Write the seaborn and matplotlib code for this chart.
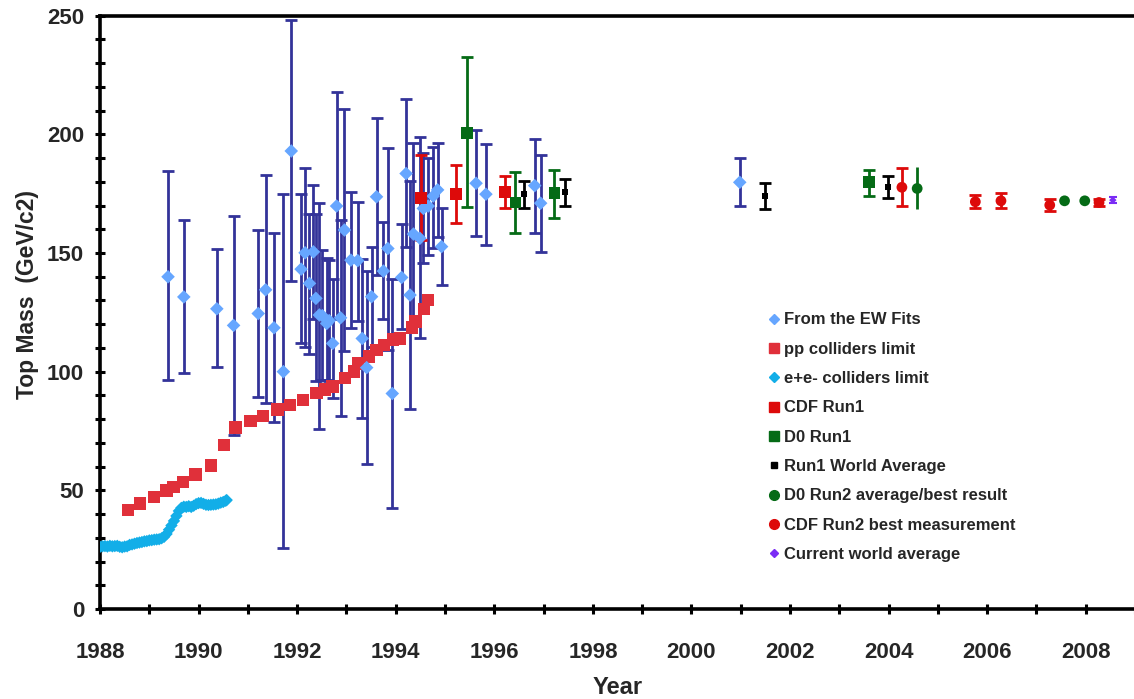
import numpy as np
import matplotlib
matplotlib.use("Agg")
import matplotlib.pyplot as plt
from matplotlib.lines import Line2D
from matplotlib.ticker import MultipleLocator
import seaborn as sns

# --- data ---
# electroweak fits: year, central value, upper and lower end of the error bar
ew_year = [1989.38, 1989.70, 1990.37, 1990.71, 1991.21, 1991.36, 1991.53, 1991.72, 1991.88,
           1992.08, 1992.16, 1992.25, 1992.33, 1992.38, 1992.45, 1992.51, 1992.60, 1992.65,
           1992.72, 1992.80, 1992.88, 1992.96, 1993.09, 1993.23, 1993.32, 1993.41, 1993.51,
           1993.61, 1993.75, 1993.84, 1993.93, 1994.12, 1994.21, 1994.29, 1994.36, 1994.49,
           1994.56, 1994.66, 1994.76, 1994.85, 1994.93, 1995.63, 1995.83, 1996.82, 1996.94,
           2000.98]
ew_mass = [140.0, 131.5, 126.5, 119.5, 124.5, 134.5, 118.5, 100.0, 193.0,
           143.2, 150.1, 137.2, 150.5, 130.9, 123.9, 123.6, 120.3, 121.5,
           111.9, 169.8, 122.7, 159.7, 147.0, 146.8, 114.0, 101.7, 131.6,
           173.7, 142.4, 151.9, 90.8, 139.7, 183.5, 132.3, 158.0, 156.2,
           168.8, 169.8, 174.0, 176.6, 152.7, 179.4, 174.8, 178.4, 171.0,
           179.8]
ew_hi = [184.5, 164.0, 151.5, 165.5, 159.5, 183.0, 158.5, 175.0, 248.0,
         174.9, 186.0, 166.4, 178.6, 166.4, 170.9, 151.2, 147.7, 147.0,
         138.9, 217.8, 163.9, 210.8, 175.8, 171.3, 147.6, 142.4, 152.7,
         207.0, 163.2, 194.4, 139.0, 162.1, 214.7, 180.5, 196.2, 199.0,
         192.0, 190.0, 194.8, 196.5, 168.8, 201.9, 196.0, 198.0, 191.1,
         189.9]
ew_lo = [96.5, 99.5, 102.0, 73.5, 89.5, 87.0, 79.0, 25.5, 138.3,
         112.2, 110.5, 107.4, 122.0, 96.0, 75.7, 96.5, 96.5, 96.0,
         88.7, 122.0, 81.4, 108.8, 118.2, 121.5, 80.3, 61.0, 110.5,
         140.7, 122.2, 109.0, 42.5, 117.9, 152.7, 84.1, 120.0, 114.1,
         145.7, 149.0, 152.0, 156.9, 136.5, 157.2, 153.4, 158.3, 150.6,
         169.9]

# p-pbar collider lower limits
pp_year = [1988.57, 1988.81, 1989.10, 1989.35, 1989.49, 1989.68, 1989.94, 1990.25, 1990.52,
           1990.75, 1991.05, 1991.31, 1991.60, 1991.85, 1992.12, 1992.39, 1992.56, 1992.72,
           1992.97, 1993.15, 1993.24, 1993.46, 1993.61, 1993.76, 1993.94, 1994.09, 1994.33,
           1994.40, 1994.57, 1994.66]
pp_mass = [41.7, 44.5, 47.2, 50.0, 51.5, 53.5, 56.6, 60.4, 69.1,
           76.5, 79.2, 81.3, 84.0, 86.0, 88.0, 91.1, 92.4, 93.8,
           97.3, 100.0, 103.4, 106.4, 109.1, 111.2, 113.5, 114.0, 118.7,
           121.1, 126.3, 130.2]

# e+e- collider lower limits
ee_year = [1988.00, 1988.05, 1988.10, 1988.15, 1988.20, 1988.25, 1988.30, 1988.35, 1988.40,
           1988.45, 1988.50, 1988.55, 1988.60, 1988.65, 1988.70, 1988.75, 1988.80, 1988.85,
           1988.90, 1988.95, 1989.00, 1989.05, 1989.10, 1989.15, 1989.20, 1989.25, 1989.30,
           1989.35, 1989.40, 1989.45, 1989.50, 1989.55, 1989.60, 1989.65, 1989.70, 1989.75,
           1989.80, 1989.85, 1989.90, 1989.95, 1990.00, 1990.05, 1990.10, 1990.15, 1990.20,
           1990.25, 1990.30, 1990.35, 1990.40, 1990.45, 1990.50, 1990.55, 1990.57]
ee_mass = [26.2, 26.4, 26.5, 26.3, 26.6, 26.4, 26.5, 26.6, 26.2,
           26.0, 26.3, 26.4, 27.0, 27.2, 27.5, 27.8, 28.0, 28.2,
           28.5, 28.6, 28.9, 29.0, 29.2, 29.3, 29.4, 29.8, 30.4,
           31.6, 33.4, 35.2, 37.1, 39.2, 41.3, 42.6, 43.1, 43.0,
           43.3, 43.0, 43.5, 44.2, 44.6, 44.7, 44.3, 43.9, 43.8,
           43.9, 44.0, 44.1, 44.4, 44.8, 45.1, 45.6, 45.9]

cdf1_year = [1994.51, 1995.23, 1996.21]
cdf1_mass = [173.3, 174.9, 175.9]
cdf1_hi = [191.3, 187.1, 182.6]
cdf1_lo = [155.5, 162.8, 168.9]

d01_year = [1995.44, 1996.43, 1997.22, 2003.60]
d01_mass = [200.7, 171.3, 175.2, 180.0]
d01_hi = [232.4, 184.3, 185.0, 185.0]
d01_lo = [169.6, 158.3, 164.9, 174.1]

wa1_year = [1996.61, 1997.43, 2001.50, 2003.98]
wa1_mass = [174.8, 175.6, 174.1, 177.9]
wa1_hi = [180.4, 181.1, 179.3, 182.4]
wa1_lo = [168.9, 170.0, 168.5, 173.0]

d02_year = [2004.58, 2007.57, 2007.98]
d02_mass = [177.2, 172.0, 172.0]
d02_hi = [186.4, 173.0, 173.0]
d02_lo = [168.4, 171.0, 171.0]

cdf2_year = [2004.27, 2005.76, 2006.28, 2007.27, 2008.27]
cdf2_mass = [177.7, 171.6, 172.0, 170.2, 171.3]
cdf2_hi = [185.7, 174.4, 175.1, 172.7, 172.9]
cdf2_lo = [169.8, 168.8, 169.1, 167.8, 169.8]

wa_year = [2008.55]
wa_mass = [172.3]
wa_hi = [173.5]
wa_lo = [171.1]

C_EW_BAR = "#333399"
C_EW = "#66a6ff"
C_PP = "#e0303a"
C_EE = "#12aee8"
C_CDF = "#dd0a0a"
C_D0 = "#056b16"
C_BLACK = "#000000"
C_WA = "#7a2cf5"


def yerr(mass, hi, lo):
    m = np.asarray(mass)
    return [m - np.asarray(lo), np.asarray(hi) - m]


sns.set_style("ticks")
plt.rcParams["font.family"] = ["Liberation Sans", "DejaVu Sans"]
plt.rcParams["font.weight"] = "bold"

fig = plt.figure(figsize=(11.34, 6.99), dpi=100)
ax = fig.add_axes([0.0882, 0.1288, 0.9127, 0.8487])

# error bars first
ax.errorbar(ew_year, ew_mass, yerr=yerr(ew_mass, ew_hi, ew_lo), fmt="none",
            ecolor=C_EW_BAR, elinewidth=2.0, capsize=4, capthick=2.0, zorder=2)
ax.errorbar(cdf1_year, cdf1_mass, yerr=yerr(cdf1_mass, cdf1_hi, cdf1_lo), fmt="none",
            ecolor=C_CDF, elinewidth=2.0, capsize=4, capthick=2.0, zorder=3)
ax.errorbar(d01_year, d01_mass, yerr=yerr(d01_mass, d01_hi, d01_lo), fmt="none",
            ecolor=C_D0, elinewidth=2.0, capsize=4, capthick=2.0, zorder=3)
ax.errorbar(wa1_year, wa1_mass, yerr=yerr(wa1_mass, wa1_hi, wa1_lo), fmt="none",
            ecolor=C_BLACK, elinewidth=2.0, capsize=4, capthick=2.0, zorder=3)
ax.errorbar(d02_year, d02_mass, yerr=yerr(d02_mass, d02_hi, d02_lo), fmt="none",
            ecolor=C_D0, elinewidth=2.0, capsize=0, zorder=3)
ax.errorbar(cdf2_year, cdf2_mass, yerr=yerr(cdf2_mass, cdf2_hi, cdf2_lo), fmt="none",
            ecolor=C_CDF, elinewidth=2.0, capsize=4, capthick=2.0, zorder=3)
ax.errorbar(wa_year, wa_mass, yerr=yerr(wa_mass, wa_hi, wa_lo), fmt="none",
            ecolor=C_WA, elinewidth=1.5, capsize=3, capthick=1.5, zorder=3)

# markers
sns.scatterplot(x=ee_year, y=ee_mass, marker="D", s=40, color=C_EE, edgecolor="none",
                ax=ax, zorder=4)
sns.scatterplot(x=pp_year, y=pp_mass, marker="s", s=80, color=C_PP, edgecolor="none",
                ax=ax, zorder=4)
sns.scatterplot(x=ew_year, y=ew_mass, marker="D", s=48, color=C_EW, edgecolor="none",
                ax=ax, zorder=5)
sns.scatterplot(x=cdf1_year, y=cdf1_mass, marker="s", s=75, color=C_CDF, edgecolor="none",
                ax=ax, zorder=5)
sns.scatterplot(x=d01_year, y=d01_mass, marker="s", s=70, color=C_D0, edgecolor="none",
                ax=ax, zorder=5)
sns.scatterplot(x=wa1_year, y=wa1_mass, marker="s", s=18, color=C_BLACK, edgecolor="none",
                ax=ax, zorder=5)
sns.scatterplot(x=d02_year, y=d02_mass, marker="o", s=60, color=C_D0, edgecolor="none",
                ax=ax, zorder=5)
sns.scatterplot(x=cdf2_year, y=cdf2_mass, marker="o", s=60, color=C_CDF, edgecolor="none",
                ax=ax, zorder=5)
sns.scatterplot(x=wa_year, y=wa_mass, marker="D", s=14, color=C_WA, edgecolor="none",
                ax=ax, zorder=5)

ax.set_xlim(1988, 2009)
ax.set_ylim(0, 250)
ax.xaxis.set_major_locator(MultipleLocator(2))
ax.xaxis.set_minor_locator(MultipleLocator(1))
ax.yaxis.set_major_locator(MultipleLocator(50))
ax.yaxis.set_minor_locator(MultipleLocator(10))
ax.tick_params(which="both", direction="inout", length=7, width=2.2, color="black")
ax.tick_params(axis="x", which="major", pad=20, labelsize=16)
ax.tick_params(axis="y", which="major", pad=8, labelsize=16)
for lab in ax.get_xticklabels() + ax.get_yticklabels():
    lab.set_fontweight("bold")

for side in ["left", "bottom", "top"]:
    ax.spines[side].set_linewidth(2.6)
    ax.spines[side].set_color("black")
ax.spines["right"].set_visible(False)

ax.set_xlabel("Year", fontsize=17, fontweight="bold", labelpad=10)
ax.set_ylabel("Top Mass  (GeV/c2)", fontsize=16.5, fontweight="bold")
ax.yaxis.set_label_coords(-0.059, 0.53)

handles = [
    Line2D([], [], ls="none", marker="D", ms=5, color=C_EW),
    Line2D([], [], ls="none", marker="s", ms=7, color=C_PP),
    Line2D([], [], ls="none", marker="D", ms=5, color=C_EE),
    Line2D([], [], ls="none", marker="s", ms=7, color=C_CDF),
    Line2D([], [], ls="none", marker="s", ms=7, color=C_D0),
    Line2D([], [], ls="none", marker="s", ms=4, color=C_BLACK),
    Line2D([], [], ls="none", marker="o", ms=7, color=C_D0),
    Line2D([], [], ls="none", marker="o", ms=7, color=C_CDF),
    Line2D([], [], ls="none", marker="D", ms=4, color=C_WA),
]
labels = ["From the EW Fits", "pp colliders limit", "e+e- colliders limit", "CDF Run1",
          "D0 Run1", "Run1 World Average", "D0 Run2 average/best result",
          "CDF Run2 best measurement", "Current world average"]
leg = ax.legend(handles, labels, loc="upper left", bbox_to_anchor=(0.671, 0.565),
                bbox_transform=fig.transFigure, frameon=False, handlelength=0.6,
                handletextpad=0.3, borderpad=0, labelspacing=0.86,
                prop={"weight": "bold", "size": 12})

fig.savefig("out.png", dpi=100, facecolor="white")
